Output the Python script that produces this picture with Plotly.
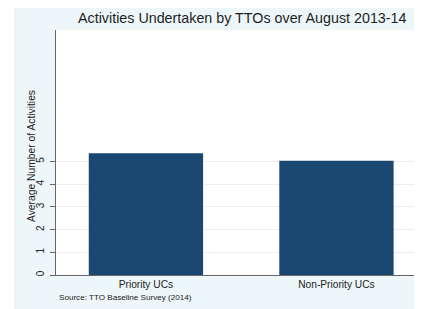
import plotly.graph_objects as go

categories = ["Priority UCs", "Non-Priority UCs"]
values = [5.37, 5.04]
y_ticks = [0, 1, 2, 3, 4, 5]

title_text = "Activities Undertaken by TTOs over August 2013-14"
y_title = "Average Number of Activities"
source_text = "Source: TTO Baseline Survey (2014)"

# The page body has an 8px default margin, so the figure is drawn 8px in.
OFF = 8
W, H = 422 - OFF, 309 - OFF
L, R, T, B = 56 - OFF, 0, 30 - OFF, 34
pw, ph = W - L - R, H - T - B

def px(x):
    return (x - OFF - L) / pw

def py(y):
    return (H - B - (y - OFF)) / ph

bg = "#edf6f9"
navy = "#1b4870"
font = "Liberation Sans, Arial, sans-serif"

fig = go.Figure(go.Bar(
    x=list(range(len(categories))), y=values,
    marker=dict(color=navy, line=dict(width=0)),
    width=0.6,
))

fig.update_layout(
    width=W, height=H,
    margin=dict(l=L, r=R, t=T, b=B, pad=0, autoexpand=False),
    paper_bgcolor=bg, plot_bgcolor="white",
    showlegend=False,
    font=dict(family=font, color="#222222"),
    xaxis=dict(
        range=[-0.472, 1.449], tickmode="array", automargin=False,
        tickvals=list(range(len(categories))), ticktext=categories,
        showgrid=False, zeroline=False, showline=True, linecolor="#666666", linewidth=1,
        ticks="", tickfont=dict(size=10.2, color="#222222"),
    ),
    yaxis=dict(
        range=[0, 10.8], tickmode="array", tickvals=y_ticks, automargin=False,
        ticktext=[str(v) for v in y_ticks], tickangle=-90, ticklabelstandoff=2,
        showgrid=True, gridcolor="#eeeeee", gridwidth=1,
        zeroline=False, showline=True, linecolor="#666666", linewidth=1,
        ticks="outside", ticklen=5, tickcolor="#666666",
        tickfont=dict(size=10, color="#222222"),
    ),
    shapes=[
        dict(type="rect", xref="paper", yref="paper", x0=px(8), x1=px(14), y0=py(309), y1=py(8),
             fillcolor="white", line=dict(width=0), layer="above"),
    ],
    annotations=[
        dict(text=title_text, xref="paper", yref="paper", x=px(242.5), y=py(18),
             xanchor="center", yanchor="middle", showarrow=False,
             font=dict(size=14.3, color="#1e1e1e")),
        dict(text=y_title, xref="paper", yref="paper", x=px(31), y=py(156),
             xanchor="center", yanchor="middle", textangle=-90, showarrow=False,
             font=dict(size=10.3, color="#222222")),
        dict(text=source_text, xref="paper", yref="paper", x=px(57), y=py(297),
             xanchor="left", yanchor="middle", showarrow=False,
             font=dict(size=8.1, color="#222222")),
    ],
)

fig.write_html("out.html")
